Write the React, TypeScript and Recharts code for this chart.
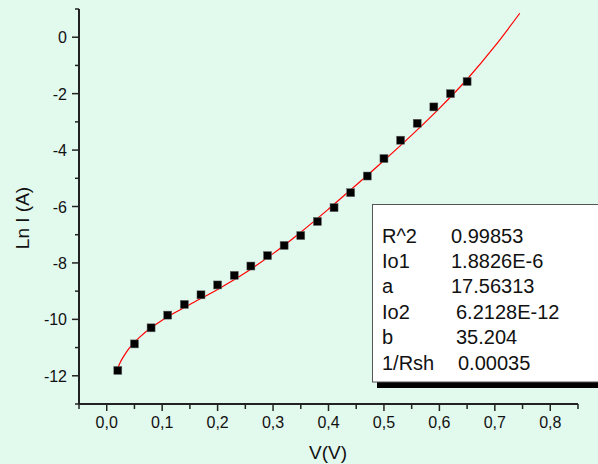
import React from "react"
import { ComposedChart, Line, Scatter, XAxis, YAxis } from "recharts"

// measured points: V (volts) and ln I
const voltages = [0.02, 0.05, 0.08, 0.11, 0.14, 0.17, 0.2, 0.23, 0.26, 0.29, 0.32, 0.35, 0.38, 0.41, 0.44, 0.47, 0.5, 0.53, 0.56, 0.59, 0.62, 0.65]
const lnCurrent = [-11.81, -10.87, -10.3, -9.85, -9.47, -9.13, -8.78, -8.44, -8.11, -7.74, -7.38, -7.03, -6.53, -6.04, -5.51, -4.92, -4.3, -3.65, -3.05, -2.47, -2.0, -1.57]

// fitted curve
const fitV = [0.02, 0.025, 0.03, 0.04, 0.05, 0.06, 0.08, 0.1, 0.125, 0.15, 0.2, 0.25, 0.3, 0.35, 0.4, 0.45, 0.5, 0.55, 0.6, 0.65, 0.7, 0.745]
const fitLnI = [-11.72, -11.5, -11.33, -11.04, -10.81, -10.62, -10.3, -10.03, -9.74, -9.47, -8.94, -8.35, -7.67, -6.91, -6.09, -5.24, -4.37, -3.47, -2.52, -1.49, -0.32, 0.85]

const xTicks = [-0.05, 0, 0.05, 0.1, 0.15, 0.2, 0.25, 0.3, 0.35, 0.4, 0.45, 0.5, 0.55, 0.6, 0.65, 0.7, 0.75, 0.8, 0.85]
const yTicks = [-13, -12, -11, -10, -9, -8, -7, -6, -5, -4, -3, -2, -1, 0, 1]

const fitNames = ["R^2", "Io1", "a", "Io2", "b", "1/Rsh"]
const fitValues = ["0.99853", "1.8826E-6", "17.56313", "6.2128E-12", "35.204", "0.00035"]

const points = voltages.map((x, i) => ({ x, y: lnCurrent[i] }))
const curve = fitV.map((x, i) => ({ x, y: fitLnI[i] }))

const font = "'Liberation Sans', Arial, sans-serif"
const bg = "#e2f9ee"
const axisColor = "#222"

const XTick = (props: any) => {
  const { x, y, payload } = props
  const v = payload.value
  const major = Math.round(v * 100) % 10 === 0 && v >= 0
  return (
    <g>
      <line x1={x} x2={x} y1={y} y2={y + (major ? 7 : 5)} stroke={axisColor} strokeWidth={1.5} />
      {major && (
        <text x={x} y={y + 24} textAnchor="middle" fontSize={16} fill="#111" fontFamily={font}>
          {v.toFixed(1).replace(".", ",")}
        </text>
      )}
    </g>
  )
}

const YTick = (props: any) => {
  const { x, y, payload } = props
  const v = payload.value
  const major = v % 2 === 0
  return (
    <g>
      <line x1={x} x2={x - (major ? 7 : 4)} y1={y} y2={y} stroke={axisColor} strokeWidth={1.5} />
      {major && (
        <text x={x - 12} y={y + 6} textAnchor="end" fontSize={16} fill="#111" fontFamily={font}>
          {v}
        </text>
      )}
    </g>
  )
}

const Square = (props: any) => (
  <rect x={props.cx - 4} y={props.cy - 4} width={8} height={8} fill="#000" stroke="#666" strokeWidth={0.5} />
)

export default function App() {
  return (
    <div style={{ position: "absolute", left: 0, top: 0, width: 598, height: 464, background: bg, overflow: "hidden" }}>
      <ComposedChart width={598} height={464} margin={{ top: 9, right: 20, bottom: 0, left: 0 }}>
        <XAxis
          dataKey="x"
          type="number"
          domain={[-0.05, 0.85]}
          ticks={xTicks}
          allowDataOverflow
          height={60}
          tickSize={0}
          tickMargin={0}
          tickLine={false}
          interval={0}
          axisLine={{ stroke: axisColor, strokeWidth: 2 }}
          tick={<XTick />}
        />
        <YAxis
          dataKey="y"
          type="number"
          domain={[-13, 1]}
          ticks={yTicks}
          allowDataOverflow
          width={79}
          tickSize={0}
          tickMargin={0}
          tickLine={false}
          interval={0}
          axisLine={{ stroke: axisColor, strokeWidth: 2 }}
          tick={<YTick />}
        />
        <Line data={curve} dataKey="y" type="monotone" stroke="#ff0000" strokeWidth={1.2} dot={false} isAnimationActive={false} />
        <Scatter data={points} dataKey="y" shape={<Square />} isAnimationActive={false} />
      </ComposedChart>
      <svg width={598} height={464} style={{ position: "absolute", left: 0, top: 0, pointerEvents: "none" }}>
        <text x={29} y={218} transform="rotate(-90 29 218)" textAnchor="middle" fontSize={19} fill="#111" fontFamily={font}>
          Ln I (A)
        </text>
        <text x={328} y={459} textAnchor="middle" fontSize={19} fill="#111" fontFamily={font}>
          V(V)
        </text>
        <rect x={377} y={382} width={230} height={6} fill="#000" />
        <rect x={372.5} y={204.5} width={240} height={177.5} fill="#fff" stroke="#555" strokeWidth={1} />
        {fitNames.map((n, i) => (
          <text key={n} x={382} y={242.5 + i * 25.4} fontSize={20} fill="#111" fontFamily={font}>
            {n}
          </text>
        ))}
        {fitValues.map((v, i) => (
          <text key={v} x={i < 3 ? 451 : i < 5 ? 456 : 458} y={242.5 + i * 25.4} fontSize={20} fill="#111" fontFamily={font}>
            {v}
          </text>
        ))}
      </svg>
    </div>
  )
}
